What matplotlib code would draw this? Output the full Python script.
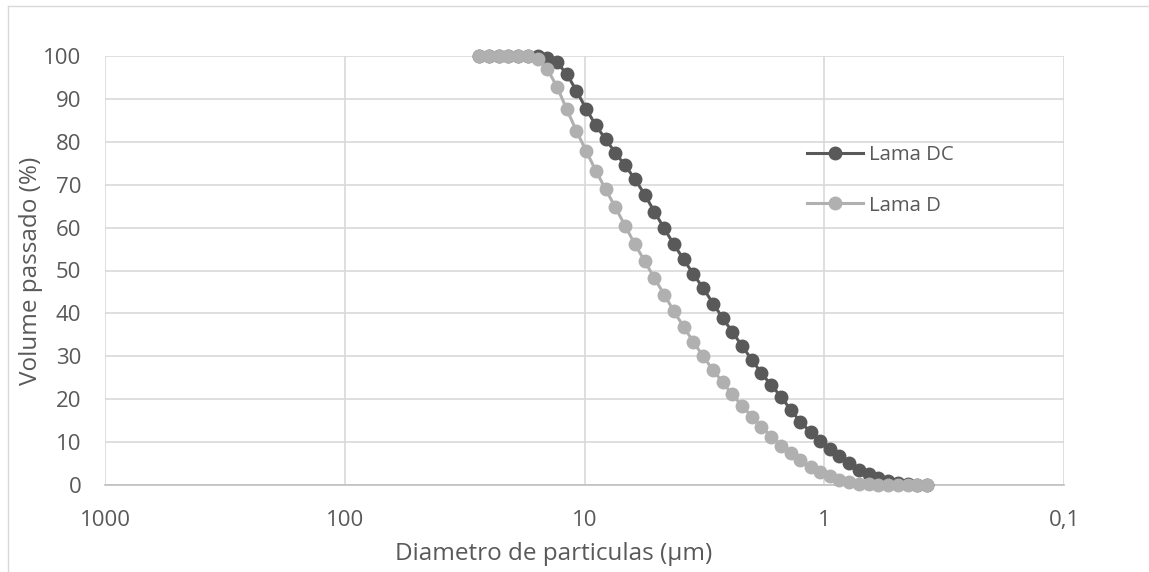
import matplotlib
matplotlib.use("Agg")
import matplotlib.pyplot as plt
from matplotlib.ticker import FixedLocator, FixedFormatter, NullLocator

# diameters (um)
diametro = [27.52, 25.06, 22.82, 20.78, 18.93, 17.24, 15.70, 14.30, 13.02, 11.86,
            10.80, 9.83, 8.96, 8.16, 7.43, 6.77, 6.16, 5.61, 5.11, 4.65,
            4.24, 3.86, 3.52, 3.20, 2.91, 2.65, 2.42, 2.20, 2.00, 1.83,
            1.66, 1.51, 1.38, 1.26, 1.14, 1.04, 0.949, 0.864, 0.787, 0.717,
            0.653, 0.594, 0.541, 0.493, 0.449, 0.409, 0.372]

lama_dc = [100, 100, 100, 100, 100, 100, 100, 99.6, 98.5, 95.8,
           91.9, 87.6, 83.8, 80.6, 77.4, 74.5, 71.3, 67.7, 63.7, 59.8,
           56.1, 52.6, 49.2, 45.9, 42.3, 38.9, 35.7, 32.4, 29.1, 26.1,
           23.2, 20.5, 17.5, 14.8, 12.3, 10.2, 8.4, 6.7, 5.1, 3.6,
           2.5, 1.6, 0.9, 0.5, 0.25, 0.1, 0.05]

lama_d = [100, 100, 100, 100, 100, 100, 99.3, 97.0, 92.8, 87.6,
          82.5, 77.8, 73.2, 68.9, 64.7, 60.4, 56.1, 52.2, 48.2, 44.4,
          40.5, 36.9, 33.4, 30.0, 26.8, 23.9, 21.1, 18.4, 15.9, 13.6,
          11.3, 9.2, 7.4, 5.8, 4.3, 3.1, 2.1, 1.2, 0.6, 0.3,
          0.15, 0.07, 0.03, 0.01, 0, 0, 0]

x_ticks = [1000, 100, 10, 1, 0.1]
x_labels = ["1000", "100", "10", "1", "0,1"]
y_ticks = list(range(0, 101, 10))

plt.rcParams['font.family'] = ['Open Sans', 'DejaVu Sans']

W, H = 1149, 572
L, R, T, B = 105, 1064, 56, 485
fig = plt.figure(figsize=(W / 100, H / 100), dpi=100)
ax = fig.add_axes([L / W, 1 - B / H, (R - L) / W, (B - T) / H])

grid_c = "#d9d9d9"
txt_c = "#595959"

ax.plot(diametro, lama_dc, color="#595959", lw=2.2, marker="o", ms=9,
        label="Lama DC", clip_on=False, zorder=3)
ax.plot(diametro, lama_d, color="#b0b0b0", lw=2.2, marker="o", ms=9,
        label="Lama D", clip_on=False, zorder=4)

ax.set_xscale("log")
ax.set_xlim(1000, 0.1)
ax.set_ylim(0, 100)
ax.xaxis.set_major_locator(FixedLocator(x_ticks))
ax.xaxis.set_major_formatter(FixedFormatter(x_labels))
ax.xaxis.set_minor_locator(NullLocator())
ax.set_yticks(y_ticks)

ax.grid(True, color=grid_c, lw=1.2)
ax.set_axisbelow(True)
for s in ["top", "right", "left"]:
    ax.spines[s].set_visible(False)
ax.spines["bottom"].set_color("#bfbfbf")
ax.spines["bottom"].set_linewidth(1.2)

ax.tick_params(axis="both", length=0, labelsize=16, labelcolor=txt_c)
ax.tick_params(axis="y", pad=17)
ax.tick_params(axis="x", pad=18)

ax.set_xlabel("Diametro de particulas (µm)", fontsize=17.5, color=txt_c)
ax.set_ylabel("Volume passado (%)", fontsize=17.5, color=txt_c)
ax.xaxis.label.set_va("center")
ax.yaxis.label.set_va("center")
ax.xaxis.set_label_coords((554 - L) / (R - L), -(554 - B) / (B - T))
ax.yaxis.set_label_coords(-(L - 31) / (R - L), 0.5)

leg = ax.legend(loc="upper left", bbox_to_anchor=(807 / W, 1 - 145 / H),
                bbox_transform=fig.transFigure, frameon=False, fontsize=14.7,
                handlelength=2.75, handletextpad=0.3, labelspacing=1.5,
                borderpad=0, borderaxespad=0)
for t in leg.get_texts():
    t.set_color(txt_c)

# outer chart border (only top and left visible in the crop)
fig.add_artist(plt.Line2D([7.5 / W, 1], [1 - 5.5 / H, 1 - 5.5 / H], color=grid_c, lw=1))
fig.add_artist(plt.Line2D([7.5 / W, 7.5 / W], [0, 1 - 5.5 / H], color=grid_c, lw=1))

fig.savefig("out.png", dpi=100)
